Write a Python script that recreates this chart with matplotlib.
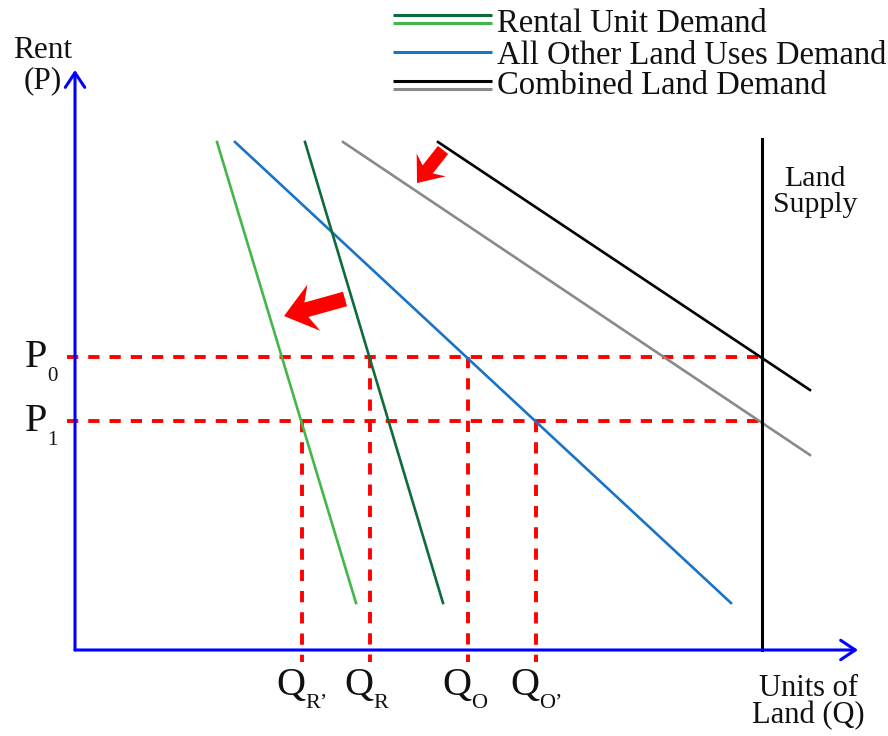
import matplotlib
matplotlib.use("Agg")
import matplotlib.pyplot as plt
from matplotlib.patches import FancyArrow

plt.rcParams["font.family"] = ["Liberation Serif", "DejaVu Serif"]
plt.rcParams["lines.scale_dashes"] = False

# Demand / supply schedules (quantity of land, rent)
rental_old_q = [230, 368]
rental_old_p = [508, 47]
rental_new_q = [142, 281]
rental_new_p = [508, 47]
other_q = [160, 656]
other_p = [508, 47]
combined_old_q = [363, 735]
combined_old_p = [508, 260]
combined_new_q = [268, 735]
combined_new_p = [508, 195]
supply_q = 687
supply_p_top = 511

# Equilibrium rents and quantities
price_levels = [293, 229]
price_subscripts = ["0", "1"]
quantity_levels = [227, 295, 393, 461]
quantity_subscripts = ["R’", "R", "O", "O’"]

legend_entries = ["Rental Unit Demand", "All Other Land Uses Demand", "Combined Land Demand"]

LIGHT_GREEN = "#45b649"
DARK_GREEN = "#0e6b3b"
BLUE_LINE = "#1a74c6"
GRAY = "#8a8a8a"
AXIS_BLUE = "#0000ff"
RED = "#ff0000"
TEXT = "#111111"

fig = plt.figure(figsize=(8.88, 7.36), dpi=100)
ax = fig.add_axes([0, 0, 1, 1])
ax.set_xlim(-75, 813)
ax.set_ylim(-86, 650)
ax.axis("off")

# dashed guides
dash = (0, (8.1, 7.2))
guide_kw = dict(color=RED, lw=2.8, ls=dash, zorder=2, dash_capstyle="butt")
for p in price_levels:
    ax.plot([-8, supply_q], [p, p], **guide_kw)
ax.plot([quantity_levels[0]] * 2, [price_levels[1], -12], **guide_kw)
ax.plot([quantity_levels[1]] * 2, [price_levels[0], -12], **guide_kw)
ax.plot([quantity_levels[2]] * 2, [price_levels[0], -12], **guide_kw)
ax.plot([quantity_levels[3]] * 2, [price_levels[1], -12], **guide_kw)

# demand curves
lw = 1.9
ax.plot(rental_new_q, rental_new_p, color=LIGHT_GREEN, lw=lw, zorder=3)
ax.plot(other_q, other_p, color=BLUE_LINE, lw=lw, zorder=3)
ax.plot(rental_old_q, rental_old_p, color=DARK_GREEN, lw=lw, zorder=3)
ax.plot(combined_new_q, combined_new_p, color=GRAY, lw=lw, zorder=3)
ax.plot(combined_old_q, combined_old_p, color="black", lw=lw, zorder=3)

# supply
ax.plot([supply_q, supply_q], [0, supply_p_top], color="black", lw=2.2, zorder=3)
ax.text(740, 438, "Land\nSupply", ha="center", va="baseline", fontsize=21.5,
        color=TEXT, linespacing=1.0)

# axes with open arrowheads
arrow_kw = dict(arrowstyle="->,head_length=0.75,head_width=0.5", color=AXIS_BLUE,
                lw=2.2, shrinkA=0, shrinkB=0, mutation_scale=14)
ax.annotate("", xy=(783, 0), xytext=(0, 0), arrowprops=arrow_kw, zorder=4)
ax.annotate("", xy=(0, 580), xytext=(0, 0), arrowprops=arrow_kw, zorder=4)

ax.text(-32, 562, "Rent\n(P)", ha="center", va="baseline", fontsize=22.5,
        color=TEXT, linespacing=1.05)
ax.text(733, -73, "Units of\nLand (Q)", ha="center", va="baseline", fontsize=22,
        color=TEXT, linespacing=0.92)

# price and quantity labels
for p, sub in zip(price_levels, price_subscripts):
    ax.text(-28, p - 10, "P", ha="right", va="baseline", fontsize=29, color=TEXT)
    ax.text(-28, p - 24, sub, ha="left", va="baseline", fontsize=15, color=TEXT)
for q, sub in zip(quantity_levels, quantity_subscripts):
    ax.text(q - 26, -45, "Q", ha="left", va="baseline", fontsize=29, color=TEXT)
    ax.text(q + 3, -58, sub, ha="left", va="baseline", fontsize=16, color=TEXT)

# shift arrows
ax.add_patch(FancyArrow(270, 351, -61, -17, width=15, head_width=48, head_length=31,
                        length_includes_head=True, overhang=0.25, color=RED,
                        lw=0, zorder=5))
ax.add_patch(FancyArrow(368, 500, -26, -33, width=13, head_width=37, head_length=23,
                        length_includes_head=True, overhang=0.25, color=RED,
                        lw=0, zorder=5))

# legend with paired strokes
legend_x = [318, 417]
rows = [
    [(DARK_GREEN, 635), (LIGHT_GREEN, 627)],
    [(BLUE_LINE, 598)],
    [("black", 569), (GRAY, 561)],
]
text_y = [618, 586, 556]
for strokes, label, ty in zip(rows, legend_entries, text_y):
    for c, y in strokes:
        ax.plot(legend_x, [y, y], color=c, lw=2.2, solid_capstyle="butt", zorder=3)
    ax.text(422, ty, label, ha="left", va="baseline", fontsize=23.5, color=TEXT)

fig.savefig("out.png", dpi=100)
